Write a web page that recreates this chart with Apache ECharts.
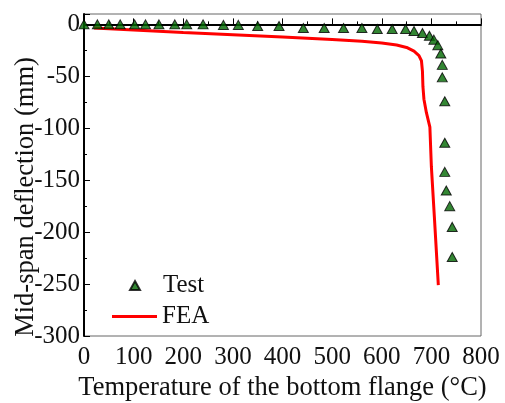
<!DOCTYPE html>
<html>
<head>
<meta charset="utf-8">
<script src="https://cdn.jsdelivr.net/npm/echarts@6/dist/echarts.min.js"></script>
<style>
  html, body { margin: 0; padding: 0; background: #fff; }
  #chart { width: 505px; height: 403px; }
</style>
</head>
<body>
<div id="chart"></div>
<script>
// 试验数据 (temperature °C, mid-span deflection mm)
const testTemp = [0, 27, 50, 73, 102, 124, 151, 183, 207, 240, 281, 311, 350, 393, 442, 484, 523, 560, 591, 621, 648, 665, 682, 696, 705, 713, 719, 722, 722, 727, 727, 727, 730, 737, 742, 742];
const testDefl = [0, 0, 0, 0, 0, 0, 0, 0, 0, 0, -0.5, -0.5, -1.5, -1.5, -3.5, -3.5, -3.5, -3.5, -4.5, -4.5, -4.5, -6.4, -8.3, -10.9, -14.7, -20, -28, -39, -51, -74, -114, -142, -160, -175, -195, -224];

// 有限元结果
const feaTemp = [20, 100, 200, 300, 400, 500, 560, 600, 630, 650, 665, 675, 680, 682, 683, 685, 690, 697, 700, 706, 714];
const feaDefl = [-3.5, -5.5, -7.8, -10, -12.2, -14.6, -16.3, -18, -19.8, -22.2, -25.8, -30, -35, -45, -60, -72, -85, -99, -137, -185, -251];

const xTicks = { min: 0, max: 800, interval: 100 };
const yTicks = { min: -300, max: 10, interval: 50 };

const zip = (a, b) => a.map((v, i) => [v, b[i]]);

const font = '"Liberation Serif", "Times New Roman", serif';
const textColor = '#111';
const chart = echarts.init(document.getElementById('chart'));

const option = {
  animation: false,
  grid: {
    left: 84,
    right: 24,
    top: 14,
    bottom: 67,
    outerBoundsMode: 'none',
    show: true,
    borderColor: '#666',
    borderWidth: 1,
  },
  legend: [
    {
      left: 124,
      top: 268,
      itemWidth: 10,
      itemHeight: 9,
      icon: 'triangle',
      textStyle: { fontFamily: font, fontSize: 25, color: textColor, padding: [0, 0, 0, 18] },
      data: ['Test'],
    },
    {
      left: 107,
      top: 299,
      itemWidth: 45,
      itemHeight: 3,
      icon: 'rect',
      textStyle: { fontFamily: font, fontSize: 25, color: textColor },
      data: ['FEA'],
    },
  ],
  // y轴标题不在绘图区正中, 用graphic放
  graphic: [{
    type: 'text',
    x: 26,
    y: 197,
    rotation: Math.PI / 2,
    style: {
      text: 'Mid-span deflection (mm)',
      font: `26.5px ${font}`,
      fill: textColor,
      align: 'center',
      verticalAlign: 'middle',
    },
  }],
  xAxis: {
    type: 'value',
    min: xTicks.min,
    max: xTicks.max,
    interval: xTicks.interval,
    name: 'Temperature of the bottom flange (°C)',
    nameLocation: 'middle',
    nameGap: 33,
    nameTextStyle: { fontFamily: font, fontSize: 26.5, color: textColor },
    axisLine: { lineStyle: { color: '#000', width: 2 } },
    axisTick: { inside: true, length: 6, lineStyle: { color: '#000', width: 1 } },
    minorTick: { show: true, splitNumber: 2, length: 3, lineStyle: { color: '#000' } },
    splitLine: { show: false },
    axisLabel: { fontFamily: font, fontSize: 25, color: textColor, margin: 9 },
  },
  yAxis: {
    type: 'value',
    min: yTicks.min,
    max: yTicks.max,
    interval: yTicks.interval,
    axisLine: { lineStyle: { color: '#000', width: 2 } },
    axisTick: { inside: true, length: 6, lineStyle: { color: '#000', width: 1 } },
    minorTick: { show: true, splitNumber: 2, length: 3, lineStyle: { color: '#000' } },
    splitLine: { show: false },
    axisLabel: { fontFamily: font, fontSize: 25, color: textColor, margin: 4, showMaxLabel: false },
  },
  series: [
    {
      name: 'Test',
      type: 'scatter',
      symbol: 'triangle',
      symbolSize: [10, 9],
      itemStyle: { color: '#006800', borderColor: '#000', borderWidth: 1 },
      data: zip(testTemp, testDefl),
      z: 3,
    },
    {
      name: 'FEA',
      type: 'line',
      symbol: 'none',
      lineStyle: { color: '#ff0000', width: 3 },
      itemStyle: { color: '#ff0000' },
      data: zip(feaTemp, feaDefl),
      z: 2,
    },
  ],
};

chart.setOption(option);
</script>
</body>
</html>
